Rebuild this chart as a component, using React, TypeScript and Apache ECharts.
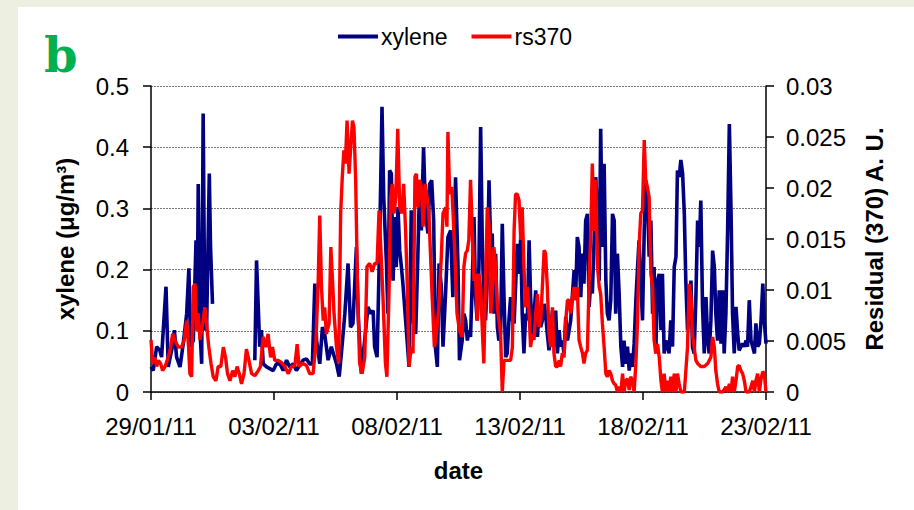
import React, { useEffect, useRef } from "react";
import * as echarts from "echarts";

// x values: days since 29/01/11 00:00
const dateTicks = ["29/01/11", "03/02/11", "08/02/11", "13/02/11", "18/02/11", "23/02/11"];
const xyleneRange = [0, 0.5];
const rsRange = [0, 0.03];

// xylene (µg/m3): [day, value]; null marks a gap in the record
const xylene: [number, number | null][] = [
  [0.00, 0.041], [0.09, 0.035], [0.23, 0.074], [0.36, 0.068], [0.43, 0.057], [0.61, 0.172], [0.70, 0.041],
  [0.87, 0.074], [0.95, 0.101], [1.04, 0.057], [1.18, 0.041], [1.31, 0.079], [1.45, 0.128], [1.54, 0.202],
  [1.61, 0.074], [1.72, 0.084], [1.83, 0.248], [1.88, 0.128], [1.92, 0.340], [1.99, 0.101], [2.06, 0.046],
  [2.12, 0.455], [2.19, 0.101], [2.26, 0.106], [2.37, 0.357], [2.42, 0.237], [2.50, 0.144], [3.0, null],
  [4.22, 0.052], [4.29, 0.215], [4.36, 0.139], [4.42, 0.074], [4.49, 0.101], [4.56, 0.046], [4.70, 0.041],
  [4.97, 0.035], [5.10, 0.046], [5.24, 0.046], [5.37, 0.035], [5.51, 0.052], [5.64, 0.041], [5.78, 0.046],
  [5.91, 0.035], [6.05, 0.044], [6.18, 0.052], [6.32, 0.054], [6.45, 0.046], [6.56, 0.046], [6.66, 0.177],
  [6.73, 0.084], [6.86, 0.046], [6.97, 0.106], [7.06, 0.095], [7.20, 0.052], [7.33, 0.074], [7.54, 0.046],
  [7.65, 0.025], [7.74, 0.063], [7.88, 0.128], [8.01, 0.210], [8.11, 0.106], [8.21, 0.112], [8.35, 0.237],
  [8.42, 0.128], [8.55, 0.030], [8.66, 0.074], [8.82, 0.139], [8.93, 0.128], [9.03, 0.133], [9.09, 0.074],
  [9.19, 0.057], [9.27, 0.199], [9.34, 0.346], [9.39, 0.466], [9.46, 0.319], [9.57, 0.210], [9.63, 0.128],
  [9.70, 0.362], [9.77, 0.357], [9.84, 0.182], [9.91, 0.286], [9.97, 0.204], [10.04, 0.302], [10.11, 0.231],
  [10.18, 0.204], [10.24, 0.177], [10.38, 0.101], [10.49, 0.041], [10.58, 0.297], [10.65, 0.117], [10.76, 0.095],
  [10.85, 0.226], [10.92, 0.340], [10.99, 0.264], [11.08, 0.400], [11.16, 0.291], [11.26, 0.259], [11.33, 0.340],
  [11.41, 0.346], [11.49, 0.280], [11.56, 0.074], [11.64, 0.041], [11.71, 0.210], [11.80, 0.172], [11.87, 0.074],
  [11.98, 0.166], [12.07, 0.253], [12.18, 0.264], [12.27, 0.155], [12.38, 0.351], [12.48, 0.204], [12.54, 0.052],
  [12.65, 0.084], [12.72, 0.128], [12.79, 0.117], [12.86, 0.084], [12.92, 0.101], [12.99, 0.090], [13.06, 0.182],
  [13.13, 0.286], [13.19, 0.155], [13.26, 0.117], [13.33, 0.204], [13.40, 0.433], [13.47, 0.237], [13.53, 0.155],
  [13.60, 0.117], [13.67, 0.182], [13.74, 0.346], [13.81, 0.237], [13.87, 0.259], [13.94, 0.128], [14.01, 0.226],
  [14.08, 0.106], [14.14, 0.084], [14.21, 0.095], [14.28, 0.275], [14.35, 0.155], [14.42, 0.057], [14.48, 0.063],
  [14.55, 0.117], [14.62, 0.155], [14.69, 0.117], [14.76, 0.112], [14.89, 0.242], [14.96, 0.193], [15.03, 0.253],
  [15.09, 0.128], [15.16, 0.063], [15.23, 0.128], [15.30, 0.117], [15.37, 0.248], [15.43, 0.155], [15.50, 0.095],
  [15.57, 0.128], [15.64, 0.166], [15.71, 0.090], [15.77, 0.133], [15.84, 0.106], [15.91, 0.117], [15.98, 0.144],
  [16.04, 0.128], [16.11, 0.095], [16.18, 0.068], [16.25, 0.101], [16.32, 0.133], [16.38, 0.074], [16.45, 0.133],
  [16.52, 0.063], [16.59, 0.101], [16.65, 0.074], [16.72, 0.084], [16.79, 0.063], [16.86, 0.123], [16.93, 0.084],
  [17.06, 0.117], [17.20, 0.199], [17.27, 0.166], [17.33, 0.253], [17.40, 0.237], [17.47, 0.155], [17.54, 0.226],
  [17.60, 0.177], [17.67, 0.280], [17.74, 0.291], [17.81, 0.139], [17.88, 0.182], [17.94, 0.161], [18.01, 0.242],
  [18.08, 0.351], [18.15, 0.286], [18.22, 0.182], [18.28, 0.430], [18.35, 0.237], [18.42, 0.373], [18.49, 0.182],
  [18.55, 0.128], [18.62, 0.117], [18.69, 0.150], [18.76, 0.291], [18.83, 0.280], [18.89, 0.128], [18.96, 0.226],
  [19.03, 0.161], [19.10, 0.074], [19.17, 0.041], [19.23, 0.084], [19.30, 0.046], [19.37, 0.074], [19.44, 0.035],
  [19.50, 0.063], [19.57, 0.041], [19.64, 0.079], [19.71, 0.150], [19.78, 0.204], [19.84, 0.248], [19.91, 0.182],
  [19.98, 0.117], [20.05, 0.264], [20.11, 0.346], [20.18, 0.319], [20.25, 0.221], [20.32, 0.280], [20.39, 0.128],
  [20.45, 0.204], [20.52, 0.063], [20.59, 0.182], [20.66, 0.193], [20.73, 0.101], [20.79, 0.193], [20.86, 0.063],
  [20.93, 0.084], [21.00, 0.074], [21.06, 0.063], [21.13, 0.117], [21.20, 0.074], [21.27, 0.204], [21.34, 0.221],
  [21.40, 0.362], [21.47, 0.351], [21.54, 0.379], [21.61, 0.357], [21.68, 0.291], [21.74, 0.182], [21.81, 0.101],
  [21.88, 0.128], [21.95, 0.182], [22.01, 0.074], [22.08, 0.063], [22.15, 0.155], [22.22, 0.280], [22.29, 0.237],
  [22.35, 0.313], [22.42, 0.139], [22.49, 0.063], [22.56, 0.155], [22.63, 0.084], [22.69, 0.063], [22.76, 0.117],
  [22.83, 0.231], [22.90, 0.204], [22.96, 0.128], [23.03, 0.084], [23.10, 0.166], [23.17, 0.079], [23.24, 0.166],
  [23.30, 0.063], [23.37, 0.128], [23.44, 0.264], [23.51, 0.438], [23.58, 0.291], [23.64, 0.128], [23.71, 0.063],
  [23.78, 0.139], [23.85, 0.095], [23.91, 0.068], [23.98, 0.074], [24.05, 0.079], [24.12, 0.074], [24.19, 0.084],
  [24.25, 0.074], [24.32, 0.150], [24.39, 0.084], [24.46, 0.074], [24.53, 0.063], [24.59, 0.112], [24.66, 0.074],
  [24.73, 0.079], [24.80, 0.117], [24.87, 0.177], [24.93, 0.117], [25.00, 0.079],
];

// rs370 residual (A. U.): [day, value]
const rs370: [number, number][] = [
  [0.00, 0.0051], [0.07, 0.0028], [0.16, 0.0034], [0.23, 0.0025], [0.30, 0.0031], [0.39, 0.0028], [0.47, 0.0021],
  [0.57, 0.0025], [0.70, 0.0034], [0.80, 0.0044], [0.88, 0.0057], [0.97, 0.0051], [1.11, 0.0044], [1.24, 0.0044],
  [1.35, 0.0051], [1.45, 0.0070], [1.52, 0.0047], [1.58, 0.0018], [1.65, 0.0015], [1.72, 0.0103], [1.79, 0.0106],
  [1.85, 0.0060], [1.92, 0.0077], [1.99, 0.0051], [2.10, 0.0067], [2.19, 0.0083], [2.26, 0.0067], [2.35, 0.0044],
  [2.44, 0.0028], [2.53, 0.0015], [2.64, 0.0011], [2.73, 0.0025], [2.84, 0.0025], [2.94, 0.0044], [3.03, 0.0034],
  [3.11, 0.0018], [3.21, 0.0011], [3.32, 0.0021], [3.41, 0.0015], [3.50, 0.0025], [3.59, 0.0018], [3.68, 0.0008],
  [3.78, 0.0018], [3.88, 0.0042], [3.98, 0.0031], [4.09, 0.0018], [4.22, 0.0016], [4.36, 0.0021], [4.45, 0.0025],
  [4.56, 0.0054], [4.67, 0.0044], [4.76, 0.0057], [4.86, 0.0034], [4.94, 0.0044], [5.03, 0.0031], [5.17, 0.0031],
  [5.30, 0.0029], [5.44, 0.0025], [5.58, 0.0018], [5.71, 0.0025], [5.85, 0.0026], [5.94, 0.0047], [6.02, 0.0025],
  [6.18, 0.0028], [6.32, 0.0026], [6.45, 0.0018], [6.59, 0.0018], [6.70, 0.0047], [6.79, 0.0103], [6.86, 0.0173],
  [6.93, 0.0103], [7.00, 0.0070], [7.06, 0.0083], [7.13, 0.0057], [7.24, 0.0067], [7.31, 0.0142], [7.38, 0.0109],
  [7.44, 0.0077], [7.54, 0.0044], [7.63, 0.0028], [7.71, 0.0175], [7.77, 0.0208], [7.84, 0.0237], [7.90, 0.0224],
  [7.97, 0.0266], [8.05, 0.0214], [8.12, 0.0240], [8.19, 0.0266], [8.25, 0.0260], [8.32, 0.0208], [8.39, 0.0109],
  [8.48, 0.0028], [8.58, 0.0018], [8.69, 0.0034], [8.78, 0.0123], [8.89, 0.0126], [8.99, 0.0118], [9.09, 0.0126],
  [9.19, 0.0126], [9.27, 0.0178], [9.34, 0.0142], [9.43, 0.0093], [9.53, 0.0028], [9.59, 0.0015], [9.68, 0.0103],
  [9.74, 0.0191], [9.81, 0.0204], [9.88, 0.0175], [9.95, 0.0191], [10.03, 0.0258], [10.11, 0.0181], [10.20, 0.0175],
  [10.27, 0.0204], [10.35, 0.0158], [10.42, 0.0103], [10.49, 0.0025], [10.58, 0.0044], [10.65, 0.0038], [10.73, 0.0211],
  [10.79, 0.0214], [10.85, 0.0181], [10.92, 0.0208], [10.99, 0.0201], [11.06, 0.0162], [11.15, 0.0204], [11.22, 0.0191],
  [11.29, 0.0178], [11.35, 0.0142], [11.43, 0.0093], [11.52, 0.0044], [11.60, 0.0057], [11.69, 0.0080], [11.80, 0.0132],
  [11.87, 0.0175], [11.98, 0.0181], [12.03, 0.0162], [12.07, 0.0255], [12.14, 0.0194], [12.23, 0.0201], [12.34, 0.0142],
  [12.44, 0.0077], [12.54, 0.0060], [12.65, 0.0054], [12.72, 0.0123], [12.79, 0.0136], [12.86, 0.0139], [12.92, 0.0149],
  [12.99, 0.0208], [13.06, 0.0158], [13.13, 0.0109], [13.19, 0.0116], [13.26, 0.0070], [13.33, 0.0116], [13.40, 0.0103],
  [13.47, 0.0060], [13.53, 0.0028], [13.60, 0.0109], [13.67, 0.0181], [13.74, 0.0165], [13.81, 0.0077], [13.87, 0.0096],
  [13.94, 0.0142], [14.01, 0.0123], [14.08, 0.0083], [14.14, 0.0070], [14.21, 0.0057], [14.28, 0.0000], [14.35, 0.0031],
  [14.48, 0.0031], [14.62, 0.0031], [14.69, 0.0044], [14.76, 0.0158], [14.82, 0.0194], [14.89, 0.0194], [14.96, 0.0188],
  [15.03, 0.0149], [15.09, 0.0181], [15.16, 0.0123], [15.23, 0.0083], [15.30, 0.0103], [15.37, 0.0077], [15.43, 0.0044],
  [15.50, 0.0057], [15.57, 0.0051], [15.64, 0.0077], [15.71, 0.0096], [15.77, 0.0064], [15.84, 0.0070], [15.91, 0.0103],
  [15.98, 0.0139], [16.04, 0.0136], [16.11, 0.0103], [16.18, 0.0057], [16.25, 0.0044], [16.32, 0.0083], [16.38, 0.0038],
  [16.45, 0.0025], [16.52, 0.0025], [16.59, 0.0031], [16.65, 0.0025], [16.72, 0.0038], [16.79, 0.0034], [16.86, 0.0070],
  [16.93, 0.0090], [16.99, 0.0090], [17.06, 0.0077], [17.13, 0.0093], [17.20, 0.0103], [17.27, 0.0090], [17.33, 0.0103],
  [17.40, 0.0051], [17.47, 0.0044], [17.54, 0.0038], [17.60, 0.0028], [17.67, 0.0038], [17.74, 0.0041], [17.81, 0.0109],
  [17.88, 0.0158], [17.94, 0.0224], [18.01, 0.0158], [18.08, 0.0208], [18.15, 0.0123], [18.22, 0.0103], [18.28, 0.0096],
  [18.35, 0.0067], [18.42, 0.0044], [18.49, 0.0018], [18.55, 0.0015], [18.62, 0.0021], [18.69, 0.0018], [18.76, 0.0011],
  [18.83, 0.0008], [18.89, 0.0007], [18.96, 0.0000], [19.03, 0.0005], [19.10, 0.0000], [19.17, 0.0018], [19.23, 0.0000],
  [19.30, 0.0011], [19.37, 0.0013], [19.44, 0.0002], [19.50, 0.0015], [19.57, 0.0011], [19.64, 0.0000], [19.71, 0.0028],
  [19.78, 0.0070], [19.84, 0.0142], [19.91, 0.0175], [19.98, 0.0178], [20.05, 0.0247], [20.11, 0.0208], [20.18, 0.0201],
  [20.25, 0.0191], [20.32, 0.0116], [20.39, 0.0103], [20.45, 0.0051], [20.52, 0.0038], [20.59, 0.0047], [20.66, 0.0034],
  [20.73, 0.0011], [20.79, 0.0000], [20.86, 0.0018], [20.93, 0.0000], [21.00, 0.0011], [21.06, 0.0000], [21.13, 0.0015],
  [21.20, 0.0000], [21.27, 0.0018], [21.34, 0.0000], [21.40, 0.0018], [21.47, 0.0008], [21.54, 0.0000], [21.68, 0.0000],
  [21.81, 0.0044], [21.88, 0.0106], [21.95, 0.0093], [22.01, 0.0057], [22.08, 0.0044], [22.15, 0.0031], [22.22, 0.0028],
  [22.35, 0.0025], [22.49, 0.0025], [22.63, 0.0028], [22.76, 0.0034], [22.83, 0.0054], [22.90, 0.0044], [22.96, 0.0021],
  [23.03, 0.0008], [23.10, 0.0000], [23.24, 0.0000], [23.37, 0.0005], [23.44, 0.0000], [23.51, 0.0008], [23.58, 0.0000],
  [23.64, 0.0015], [23.71, 0.0000], [23.78, 0.0011], [23.85, 0.0025], [23.91, 0.0026], [23.98, 0.0021], [24.05, 0.0018],
  [24.12, 0.0011], [24.19, 0.0000], [24.32, 0.0000], [24.39, 0.0005], [24.46, 0.0011], [24.53, 0.0000], [24.59, 0.0011],
  [24.66, 0.0018], [24.73, 0.0000], [24.80, 0.0013], [24.87, 0.0020], [24.93, 0.0018], [25.00, 0.0000],
];

const FONT = "'Liberation Sans', Arial, sans-serif";

export default function App() {
  const ref = useRef<HTMLDivElement>(null);
  useEffect(() => {
    if (!ref.current) return;
    const chart = echarts.init(ref.current, undefined, { renderer: "svg" });
    const fmt = (v: number) => String(parseFloat(v.toFixed(4)));
    chart.setOption({
      animation: false,
      backgroundColor: "#edf0e1",
      textStyle: { fontFamily: FONT },
      graphic: [
        { type: "rect", left: 18, top: 7, shape: { width: 896, height: 503 }, style: { fill: "#ffffff" }, z: -10 },
        {
          type: "text", left: 44, top: 31,
          style: { text: "b", fill: "#00b050", font: "bold 48px 'DejaVu Serif', serif" },
        },
      ],
      legend: {
        top: 20,
        left: 333,
        itemWidth: 40,
        itemHeight: 4,
        itemGap: 24,
        icon: "rect",
        textStyle: { fontSize: 23, color: "#000", fontFamily: FONT, padding: [0, 0, 0, -2] },
        data: ["xylene", "rs370"],
      },
      grid: { left: 151, right: 148, top: 86, bottom: 118 },
      xAxis: {
        type: "value",
        min: 0,
        max: 25,
        interval: 5,
        name: "date",
        nameLocation: "middle",
        nameGap: 66,
        nameTextStyle: { fontSize: 24, fontWeight: "bold", color: "#000", fontFamily: FONT },
        axisLine: { show: true, onZero: false, lineStyle: { color: "#000", width: 1.5 } },
        axisTick: { show: true, length: 8, lineStyle: { color: "#000", width: 1.5 } },
        axisLabel: {
          fontSize: 24, color: "#000", margin: 22,
          formatter: (v: number) => dateTicks[Math.round(v / 5)] ?? "",
        },
        splitLine: { show: false },
      },
      yAxis: [
        {
          type: "value",
          min: xyleneRange[0],
          max: xyleneRange[1],
          interval: 0.1,
          position: "left",
          name: "xylene (μg/m³)",
          nameLocation: "middle",
          nameRotate: 90,
          nameGap: 74,
          nameTextStyle: { fontSize: 24, fontWeight: "bold", color: "#000", fontFamily: FONT },
          axisLine: { show: true, onZero: false, lineStyle: { color: "#000", width: 1.5 } },
          axisTick: { show: true, length: 8, lineStyle: { color: "#000", width: 1.5 } },
          axisLabel: { fontSize: 24, color: "#000", margin: 22, formatter: fmt },
          splitLine: { show: true, lineStyle: { color: "#777", type: [2, 1], width: 1 } },
        },
        {
          type: "value",
          min: rsRange[0],
          max: rsRange[1],
          interval: 0.005,
          position: "right",
          name: "Residual (370) A. U.",
          nameLocation: "middle",
          nameRotate: 90,
          nameGap: 96,
          nameTextStyle: { fontSize: 24, fontWeight: "bold", color: "#000", fontFamily: FONT },
          axisLine: { show: true, onZero: false, lineStyle: { color: "#000", width: 1.5 } },
          axisTick: { show: true, length: 8, lineStyle: { color: "#000", width: 1.5 } },
          axisLabel: { fontSize: 24, color: "#000", margin: 20, formatter: fmt },
          splitLine: { show: false },
        },
      ],
      series: [
        {
          name: "xylene",
          type: "line",
          yAxisIndex: 0,
          data: xylene,
          showSymbol: false,
          symbol: "none",
          connectNulls: false,
          lineStyle: { color: "#000080", width: 3.6 },
          itemStyle: { color: "#000080" },
          z: 2,
        },
        {
          name: "rs370",
          type: "line",
          yAxisIndex: 1,
          data: rs370,
          showSymbol: false,
          symbol: "none",
          lineStyle: { color: "#ff0000", width: 3.4 },
          itemStyle: { color: "#ff0000" },
          z: 3,
        },
      ],
    });
    return () => chart.dispose();
  }, []);
  return (
    <div
      ref={ref}
      style={{ position: "absolute", left: 0, top: 0, width: 914, height: 510 }}
    />
  );
}
